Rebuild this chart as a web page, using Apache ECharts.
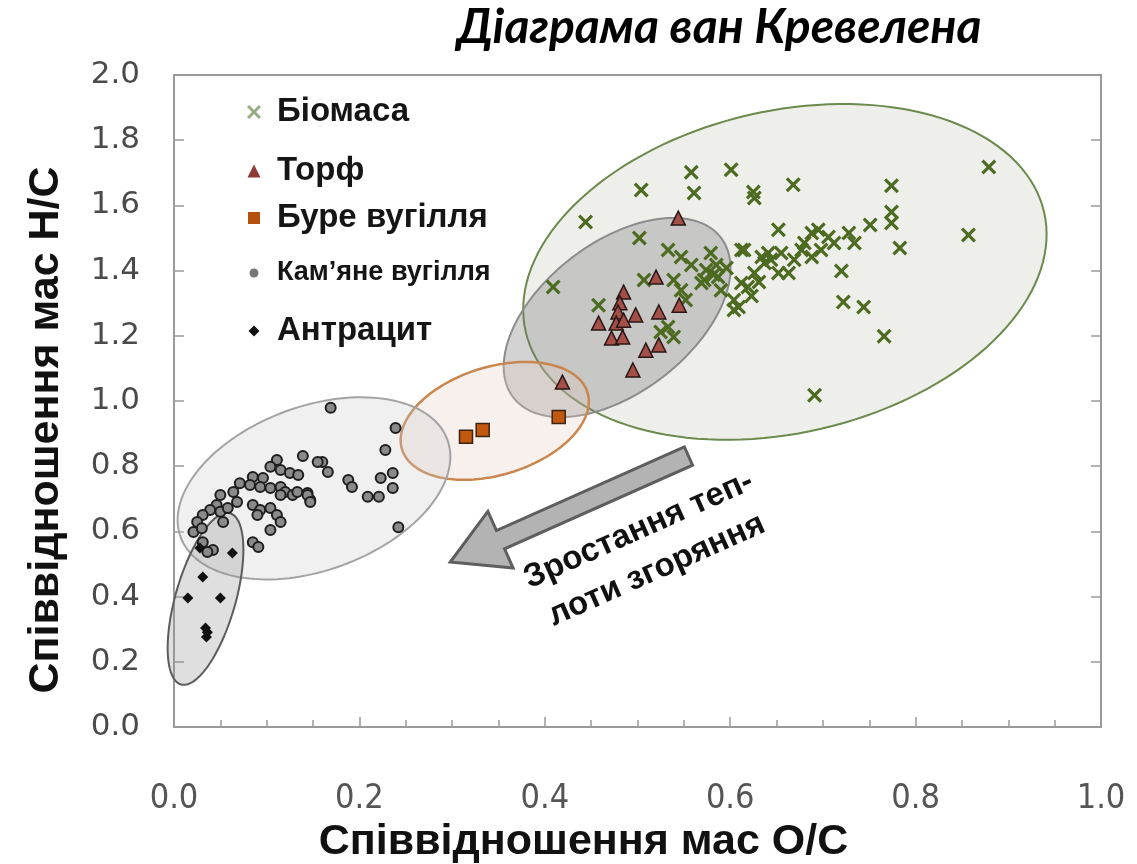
<!DOCTYPE html>
<html><head><meta charset="utf-8">
<script src="https://cdn.jsdelivr.net/npm/echarts@6/dist/echarts.min.js"></script>
<style>html,body{margin:0;padding:0;background:#fff}#c{width:1137px;height:864px}</style>
</head><body><div id="c"></div><script>
// ---- data ----
const titleText = 'Діаграма ван Кревелена';
const xTitle = 'Співвідношення мас O/C';
const yTitle = 'Співвідношення мас H/C';
const seriesNames = ['Біомаса', 'Торф', 'Буре вугілля', 'Кам’яне вугілля', 'Антрацит'];
const xTicks = ['0.0', '0.2', '0.4', '0.6', '0.8', '1.0'];
const yTicks = ['0.0', '0.2', '0.4', '0.6', '0.8', '1.0', '1.2', '1.4', '1.6', '1.8', '2.0'];

const biomass = [
 [0.444,1.549],[0.409,1.350],[0.504,1.647],[0.558,1.702],[0.561,1.638],[0.601,1.709],[0.625,1.641],[0.626,1.623],
 [0.668,1.663],[0.774,1.660],[0.774,1.580],[0.774,1.546],[0.751,1.540],[0.783,1.469],[0.857,1.509],[0.879,1.718],
 [0.720,1.399],[0.722,1.304],[0.744,1.288],[0.766,1.199],[0.691,1.018],[0.502,1.500],[0.458,1.294],[0.533,1.227],
 [0.539,1.196],[0.525,1.212],[0.533,1.463],[0.547,1.442],[0.579,1.454],[0.539,1.371],[0.547,1.340],[0.572,1.371],
 [0.587,1.380],[0.590,1.340],[0.507,1.371],[0.604,1.310],[0.604,1.279],[0.619,1.350],[0.626,1.393],[0.652,1.525],
 [0.612,1.463],[0.641,1.454],[0.637,1.423],[0.652,1.393],[0.634,1.442],[0.644,1.433],[0.615,1.463],[0.663,1.393],
 [0.677,1.463],[0.688,1.515],[0.695,1.525],[0.706,1.503],[0.698,1.463],[0.712,1.485],[0.728,1.515],[0.734,1.485],
 [0.688,1.442],[0.669,1.433],[0.655,1.454],[0.680,1.485],[0.574,1.402],[0.582,1.387],[0.569,1.362],[0.596,1.408],
 [0.558,1.417],[0.585,1.417],[0.552,1.310],[0.612,1.362],[0.609,1.288],[0.631,1.365],[0.623,1.322]
];
const peat = [
 [0.544,1.561],[0.520,1.380],[0.485,1.334],[0.481,1.301],[0.479,1.273],[0.498,1.264],[0.523,1.273],[0.545,1.294],
 [0.458,1.239],[0.477,1.239],[0.485,1.248],[0.472,1.193],[0.484,1.196],[0.509,1.156],[0.523,1.172],[0.495,1.095],
 [0.419,1.058]
];
const brownCoal = [[0.315,0.890],[0.333,0.911],[0.415,0.951]];
const hardCoal = [
 [0.169,0.979],[0.239,0.917],[0.228,0.850],[0.139,0.831],[0.160,0.813],[0.166,0.782],[0.188,0.758],[0.192,0.736],
 [0.209,0.706],[0.221,0.706],[0.223,0.764],[0.236,0.779],[0.236,0.733],[0.242,0.613],[0.144,0.718],[0.147,0.696],
 [0.155,0.813],[0.111,0.819],[0.104,0.798],[0.115,0.788],[0.125,0.779],[0.134,0.773],[0.085,0.767],[0.096,0.764],
 [0.071,0.748],[0.082,0.742],[0.093,0.736],[0.104,0.733],[0.115,0.736],[0.120,0.721],[0.128,0.712],[0.115,0.712],
 [0.133,0.721],[0.144,0.712],[0.147,0.690],[0.064,0.721],[0.068,0.690],[0.050,0.712],[0.046,0.681],[0.039,0.666],
 [0.031,0.650],[0.025,0.629],[0.021,0.598],[0.030,0.610],[0.050,0.660],[0.058,0.672],[0.053,0.629],[0.085,0.681],
 [0.093,0.666],[0.104,0.672],[0.111,0.650],[0.115,0.629],[0.104,0.604],[0.090,0.650],[0.085,0.567],[0.091,0.552],
 [0.031,0.567],[0.042,0.543],[0.036,0.537]
];
const anthracite = [
 [0.063,0.534],[0.031,0.460],[0.015,0.396],[0.050,0.396],[0.034,0.304],[0.035,0.276],[0.036,0.291],[0.028,0.549]
];
// group regions: centres (data units)
const regionCentres = [[0.659,1.396],[0.478,1.256],[0.346,0.939],[0.151,0.732],[0.034,0.393]];
// arrow: tail x, tail y, tip x, tip y (data units)
const arrowData = [[0.555,0.831,0.298,0.506]];
const arrowLabel = 'Зростання теп-\nлоти згоряння';
const arrowLabelPos = [[0.511,0.543]];

// ---- styles / geometry (pixels) ----
const regionGeom = [
 {a:266,b:161,angle:13,fill:'rgba(205,207,198,0.35)',stroke:'#6b8a4c',lw:2},
 {a:131,b:75,angle:37.6,fill:'rgba(120,120,120,0.33)',stroke:'#8c8c8c',lw:2},
 {a:97,b:54,angle:17,fill:'rgba(225,200,185,0.28)',stroke:'#c9874f',lw:2.5},
 {a:142,b:82,angle:20,fill:'rgba(200,200,200,0.28)',stroke:'#a3a3a3',lw:2},
 {a:89,b:30,angle:74,fill:'rgba(150,150,150,0.3)',stroke:'#5c5c5c',lw:2}
];
const crossPath = 'path://M0,1.5 L1.5,0 L5,3.5 L8.5,0 L10,1.5 L6.5,5 L10,8.5 L8.5,10 L5,6.5 L1.5,10 L0,8.5 L3.5,5 Z';
const boldFont = '"Liberation Sans", Arial, sans-serif';

const chart = echarts.init(document.getElementById('c'), null, {renderer:'canvas'});

function legendItem(name, icon, color, centerY, size, font) {
  return {
    data:[{name:name, icon:icon, itemStyle:{color:color, borderWidth:0}}],
    left:254 - size/2, top:centerY - 19, orient:'vertical', padding:0, selectedMode:false,
    itemWidth:size, itemHeight:size, symbolKeepAspect:true,
    textStyle:Object.assign({color:'#151515', fontWeight:'bold', fontSize:33, lineHeight:38,
      fontFamily:boldFont, padding:[0,0,0,23 - size/2 - 5]}, font||{})
  };
}

const axisGray = '#9a9a9a';
const option = {
  backgroundColor:'#fff',
  animation:false,
  title:{text:titleText, left:452, top:-1,
    textStyle:{fontFamily:'Lato, "Open Sans", sans-serif', fontStyle:'italic', fontWeight:'bold', fontSize:48, color:'#000'}},
  legend:[
    legendItem(seriesNames[0], crossPath, '#97ab84', 112, 14),
    legendItem(seriesNames[1], 'triangle', '#8e3b38', 171, 13),
    legendItem(seriesNames[2], 'rect', '#b55010', 218, 12),
    legendItem(seriesNames[3], 'circle', '#777', 273, 9, {fontSize:27}),
    legendItem(seriesNames[4], 'diamond', '#111', 331, 11)
  ],
  grid:{left:174, top:75, width:927, height:652, containLabel:false, outerBoundsMode:'none'},
  xAxis:[{
    type:'value', min:0, max:1, interval:0.2, position:'bottom',
    axisLine:{show:true, onZero:false, lineStyle:{color:axisGray, width:2}},
    axisTick:{show:true, inside:true, length:10, lineStyle:{color:axisGray, width:1.5}},
    minorTick:{show:true, splitNumber:4, length:7, lineStyle:{color:axisGray, width:1.5}},
    splitLine:{show:false},
    axisLabel:{margin:55, color:'#555', fontSize:34,
      fontFamily:'"Liberation Sans Narrow", "DejaVu Sans Condensed", sans-serif',
      formatter:(v)=>xTicks[Math.round(v/0.2)]},
    name:xTitle, nameLocation:'middle', nameGap:89,
    nameTextStyle:{fontFamily:boldFont, fontWeight:'bold', fontSize:43, color:'#111', padding:[0,108,0,0]}
  },{
    type:'value', min:0, max:1, position:'top',
    axisLine:{show:true, onZero:false, lineStyle:{color:axisGray, width:2}},
    axisTick:{show:false}, axisLabel:{show:false}, splitLine:{show:false}
  }],
  yAxis:[{
    type:'value', min:0, max:2, interval:0.2, position:'left',
    axisLine:{show:true, onZero:false, lineStyle:{color:axisGray, width:2}},
    axisTick:{show:true, inside:true, length:10, lineStyle:{color:axisGray, width:1.5}},
    splitLine:{show:false},
    axisLabel:{margin:34, color:'#4a4a4a', fontSize:31, fontFamily:'"DejaVu Sans", sans-serif',
      padding:[8,0,0,0], formatter:(v)=>yTicks[Math.round(v/0.2)]},
    name:yTitle, nameLocation:'middle', nameGap:106, nameRotate:90,
    nameTextStyle:{fontFamily:boldFont, fontWeight:'bold', fontSize:43, color:'#111', padding:[0,58,0,0]}
  },{
    type:'value', min:0, max:2, interval:0.2, position:'right',
    axisLine:{show:true, onZero:false, lineStyle:{color:axisGray, width:2}},
    axisTick:{show:true, inside:true, length:10, lineStyle:{color:axisGray, width:1.5}},
    axisLabel:{show:false}, splitLine:{show:false}
  }],
  series:[
    {
      type:'custom', name:'regions', coordinateSystem:'cartesian2d', silent:true, z:1,
      data:regionCentres, encode:{x:0, y:1},
      renderItem:(params, api)=>{
        const g = regionGeom[params.dataIndex];
        const c = api.coord([api.value(0), api.value(1)]);
        const th = g.angle*Math.PI/180, ct=Math.cos(th), st=Math.sin(th);
        const pts=[];
        for(let k=0;k<144;k++){
          const t=k/144*2*Math.PI, ca=g.a*Math.cos(t), sb=g.b*Math.sin(t);
          pts.push([c[0]+ca*ct+sb*st, c[1]-ca*st+sb*ct]);
        }
        return {type:'polygon', shape:{points:pts}, style:{fill:g.fill, stroke:g.stroke, lineWidth:g.lw}};
      }
    },
    {
      type:'custom', name:'arrow', coordinateSystem:'cartesian2d', silent:true, z:2,
      data:arrowData, encode:{x:[0,2], y:[1,3]},
      renderItem:(params, api)=>{
        const p0 = api.coord([api.value(0), api.value(1)]);
        const p1 = api.coord([api.value(2), api.value(3)]);
        const dx=p1[0]-p0[0], dy=p1[1]-p0[1], L=Math.hypot(dx,dy);
        const ux=dx/L, uy=dy/L, nx=-uy, ny=ux;
        const hw=10, HW=31, HL=55;
        const bx=p1[0]-ux*HL, by=p1[1]-uy*HL;
        const pts=[[p0[0]+nx*hw,p0[1]+ny*hw],[bx+nx*hw,by+ny*hw],[bx+nx*HW,by+ny*HW],[p1[0],p1[1]],
                   [bx-nx*HW,by-ny*HW],[bx-nx*hw,by-ny*hw],[p0[0]-nx*hw,p0[1]-ny*hw]];
        return {type:'polygon', shape:{points:pts}, style:{fill:'#b3b3b3', stroke:'#5e5e5e', lineWidth:3}};
      }
    },
    {
      type:'custom', name:'arrowText', coordinateSystem:'cartesian2d', silent:true, z:3,
      data:arrowLabelPos, encode:{x:0, y:1},
      renderItem:(params, api)=>{
        const c = api.coord([api.value(0), api.value(1)]);
        return {type:'text', x:c[0], y:c[1], rotation:24*Math.PI/180,
          style:{text:arrowLabel, fill:'#111', fontSize:33, fontWeight:'bold', lineHeight:44,
            fontFamily:boldFont, align:'center', verticalAlign:'middle'}};
      }
    },
    {name:seriesNames[3], type:'scatter', data:hardCoal, symbol:'circle', symbolSize:10, z:4,
      itemStyle:{color:'#8a8a8a', borderColor:'#1e1e1e', borderWidth:2, opacity:1}},
    {name:seriesNames[4], type:'scatter', data:anthracite, symbol:'diamond', symbolSize:11, z:4,
      itemStyle:{color:'#111', opacity:1}},
    {name:seriesNames[2], type:'scatter', data:brownCoal, symbol:'rect', symbolSize:13, z:5,
      itemStyle:{color:'#c2570e', borderColor:'#3a2414', borderWidth:1.5, opacity:1}},
    {name:seriesNames[0], type:'scatter', data:biomass, symbol:crossPath, symbolSize:15, z:5,
      itemStyle:{color:'#4c6b21', opacity:1}},
    {name:seriesNames[1], type:'scatter', data:peat, symbol:'triangle', symbolSize:14, z:6,
      itemStyle:{color:'#a45049', borderColor:'#2a1616', borderWidth:1.5, opacity:1}}
  ]
};
chart.setOption(option);
</script></body></html>
